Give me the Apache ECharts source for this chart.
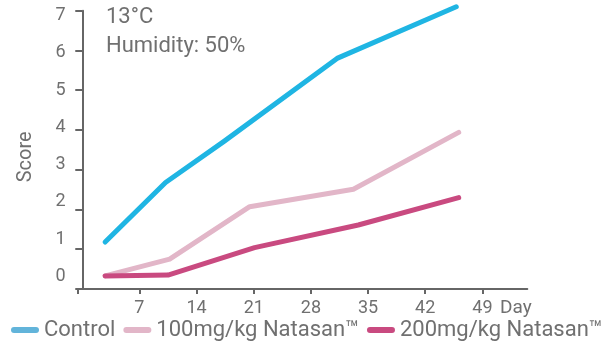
<!DOCTYPE html>
<html>
<head>
<meta charset="utf-8">
<script src="https://cdn.jsdelivr.net/npm/echarts@6/dist/echarts.min.js"></script>
<style>html,body{margin:0;padding:0;background:#fff}#c{width:614px;height:342px}</style>
</head>
<body>
<div id="c"></div>
<script>
const seriesNames = ['Control', '100mg/kg Natasan™', '200mg/kg Natasan™'];
const controlDays = [2.8, 10.2, 17.4, 31.2, 45.8];
const controlScores = [1.18, 2.68, 3.72, 5.80, 7.10];
const lowDoseDays = [2.8, 10.7, 20.5, 33.2, 46.1];
const lowDoseScores = [0.33, 0.75, 2.07, 2.51, 3.94];
const highDoseDays = [2.8, 10.5, 21.1, 33.8, 46.1];
const highDoseScores = [0.33, 0.35, 1.04, 1.61, 2.30];
const xTickDays = [7, 14, 21, 28, 35, 42, 49];
const yTickScores = [0, 1, 2, 3, 4, 5, 6, 7];
const conditionLines = ['13°C', 'Humidity: 50%'];

const xMin = -0.56, xMax = 54.5;
const font = 'Roboto';
const grey = '#707070';
const axisColor = '#666';
const colors = ['#1fb5e3', '#e2b6c8', '#c94a80'];

function pairs(xs, ys) { return xs.map((x, i) => [x, ys[i]]); }

const chart = echarts.init(document.getElementById('c'), null, {renderer: 'canvas'});
const pill = 'path://M3,0 H25 A3,3 0 0 1 25,6 H3 A3,3 0 0 1 3,0 Z';
chart.setOption({
  animation: false,
  title: {
    text: conditionLines.join('\n'),
    left: 106, top: 3, padding: 0,
    textStyle: {fontFamily: font, fontSize: 22, fontWeight: 'normal', color: grey, lineHeight: 29}
  },
  legend: {
    left: 11, top: 319, padding: 0,
    itemWidth: 28, itemHeight: 6, itemGap: 8,
    icon: pill,
    textStyle: {fontFamily: font, fontSize: 22, color: grey},
    data: [
      {name: seriesNames[0], itemStyle: {color: '#62b4da'}},
      {name: seriesNames[1], itemStyle: {color: colors[1]}},
      {name: seriesNames[2], itemStyle: {color: colors[2]}}
    ]
  },
  grid: {left: 77.7, top: 10.7, right: 86.7, bottom: 53},
  xAxis: {
    type: 'value', min: xMin, max: xMax,
    name: 'Day', nameLocation: 'end', nameGap: -27.3,
    nameTextStyle: {fontFamily: font, fontSize: 19, color: grey, align: 'left', verticalAlign: 'top', padding: [10, 0, 0, 0]},
    splitLine: {show: false},
    axisLine: {lineStyle: {color: axisColor, width: 2}},
    axisTick: {show: true, length: 5, lineStyle: {color: axisColor, width: 2}, customValues: [xMin].concat(xTickDays)},
    axisLabel: {fontFamily: font, fontSize: 18, color: grey, margin: 10, customValues: xTickDays}
  },
  yAxis: [
    {
      type: 'value', min: 0, max: 7, interval: 1,
      name: 'Score', nameLocation: 'middle', nameGap: 42,
      nameTextStyle: {fontFamily: font, fontSize: 20, color: grey, padding: [0, 14, 0, 0]},
      splitLine: {show: false},
      axisLine: {show: true, lineStyle: {color: axisColor, width: 2}},
      axisTick: {show: true, length: 7, lineStyle: {color: axisColor, width: 2}},
      axisLabel: {show: false}
    },
    {
      type: 'value', min: -0.344, max: 7.137, position: 'left', offset: 0,
      splitLine: {show: false},
      axisLine: {show: false},
      axisTick: {show: false},
      axisLabel: {fontFamily: font, fontSize: 18, color: grey, margin: 12, customValues: yTickScores}
    }
  ],
  series: [
    {name: seriesNames[0], type: 'line', data: pairs(controlDays, controlScores), color: colors[0]},
    {name: seriesNames[1], type: 'line', data: pairs(lowDoseDays, lowDoseScores), color: colors[1]},
    {name: seriesNames[2], type: 'line', data: pairs(highDoseDays, highDoseScores), color: colors[2]}
  ].map(s => Object.assign(s, {
    showSymbol: false, symbol: 'none', clip: false, yAxisIndex: 0,
    lineStyle: {width: 5, cap: 'round', join: 'round'}
  }))
});
</script>
</body>
</html>
